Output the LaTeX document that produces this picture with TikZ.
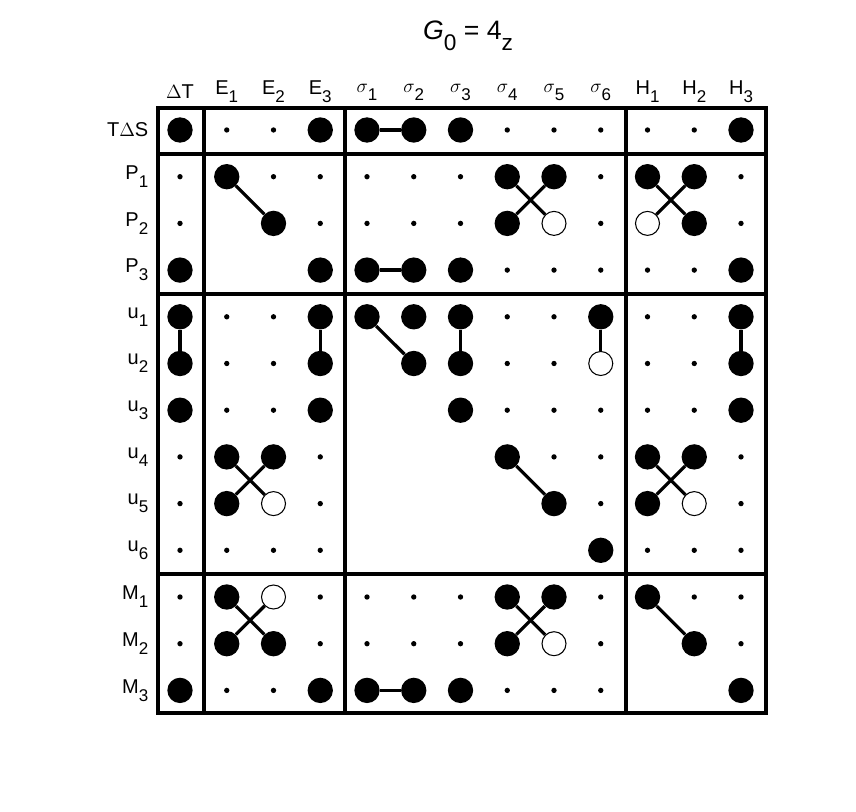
\documentclass[tikz,border=0pt]{standalone}
\usepackage{fontspec}
\setmainfont{Liberation Sans}
\newcommand{\lo}[1]{\raisebox{-0.75ex}{\scalebox{0.85}{#1}}}

\begin{document}
\begin{tikzpicture}[x=0.75pt, y=-0.75pt,
    dotb/.style={circle, fill=black, inner sep=0pt, minimum size=19},
    dots/.style={circle, fill=black, inner sep=0pt, minimum size=4},
    dotw/.style={circle, draw=black, fill=white, line width=0.8pt, inner sep=0pt, minimum size=18},
    dotn/.style={inner sep=0pt, minimum size=0},
    frame/.style={line width=2.4pt},
    link/.style={line width=2.4pt},
    lab/.style={font=\fontsize{15}{17}\selectfont}]

    \useasboundingbox (0,0) rectangle (856,812);

    % title
    \node[font=\fontsize{20}{22}\selectfont] (title) at (468,36) {\textit{G}\lo{0} = 4\lo{z}};

    % column labels
    \foreach \t [count=\k] in {$\Delta$T, E\lo{1}, E\lo{2}, E\lo{3},
        $\sigma$\lo{1}, $\sigma$\lo{2}, $\sigma$\lo{3}, $\sigma$\lo{4}, $\sigma$\lo{5}, $\sigma$\lo{6},
        H\lo{1}, H\lo{2}, H\lo{3}} {
        \node[lab] (col-\k) at ({180+(\k-1)*46.75}, 92) {\t};
    }

    % row labels
    \foreach \t [count=\r] in {T$\Delta$S, P\lo{1}, P\lo{2}, P\lo{3}, u\lo{1}, u\lo{2}, u\lo{3},
        u\lo{4}, u\lo{5}, u\lo{6}, M\lo{1}, M\lo{2}, M\lo{3}} {
        \node[lab, anchor=east] (row-\r) at (153, {130+(\r-1)*46.7}) {\t};
    }

    % frame
    \draw[frame] (158,108) rectangle (766,713);
    \foreach \x in {204,345,626} {
        \draw[frame] (\x,108) -- (\x,713);
    }
    \foreach \y in {154,294,574} {
        \draw[frame] (158,\y) -- (766,\y);
    }

    % dots: b big, s small, w open, n none
    \foreach \codes [count=\r] in {
        {b,s,s,b,b,b,b,s,s,s,s,s,b},
        {s,b,s,s,s,s,s,b,b,s,b,b,s},
        {s,n,b,s,s,s,s,b,w,s,w,b,s},
        {b,n,n,b,b,b,b,s,s,s,s,s,b},
        {b,s,s,b,b,b,b,s,s,b,s,s,b},
        {b,s,s,b,n,b,b,s,s,w,s,s,b},
        {b,s,s,b,n,n,b,s,s,s,s,s,b},
        {s,b,b,s,n,n,n,b,s,s,b,b,s},
        {s,b,w,s,n,n,n,n,b,s,b,w,s},
        {s,s,s,s,n,n,n,n,n,b,s,s,s},
        {s,b,w,s,s,s,s,b,b,s,b,s,s},
        {s,b,b,s,s,s,s,b,w,s,n,b,s},
        {b,s,s,b,b,b,b,s,s,s,n,n,b}} {
        \foreach \c [count=\k] in \codes {
            \node[dot\c] (d-\k-\r) at ({180+(\k-1)*46.75}, {130+(\r-1)*46.7}) {};
        }
    }

    % links
    \foreach \a/\b in {5-1/6-1, 2-2/3-3, 8-2/9-3, 9-2/8-3, 11-2/12-3, 12-2/11-3, 5-4/6-4,
        1-5/1-6, 4-5/4-6, 5-5/6-6, 7-5/7-6, 10-5/10-6, 13-5/13-6,
        2-8/3-9, 3-8/2-9, 8-8/9-9, 11-8/12-9, 12-8/11-9,
        2-11/3-12, 3-11/2-12, 8-11/9-12, 9-11/8-12, 11-11/12-12, 5-13/6-13} {
        \draw[link] (d-\a) -- (d-\b);
    }
\end{tikzpicture}
\end{document}
